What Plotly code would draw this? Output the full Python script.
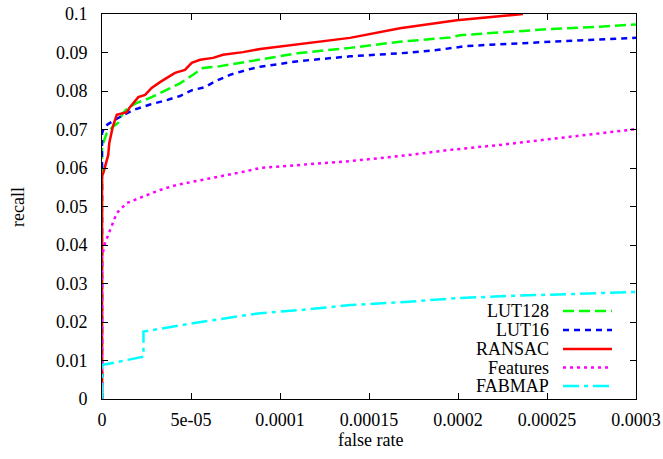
import plotly.graph_objects as go

# ---- data ----
lut128_x = [0, 0, 0, 2.6e-6, 5.6e-6, 9.0e-6, 1.18e-5, 1.46e-5, 1.95e-5, 2.70e-5, 3.63e-5, 4.38e-5,
            5.11e-5, 5.67e-5, 6.44e-5, 7.75e-5, 8.88e-5, 1.112e-4, 1.393e-4, 1.674e-4, 1.955e-4,
            2.011e-4, 2.236e-4, 2.517e-4, 2.798e-4, 3.0e-4]
lut128_y = [0, 0.060, 0.0655, 0.069, 0.0705, 0.0717, 0.0743, 0.0756, 0.0769, 0.0782, 0.0803, 0.0820,
            0.0842, 0.0860, 0.0863, 0.0873, 0.0881, 0.0899, 0.0912, 0.0928, 0.0939,
            0.0945, 0.0952, 0.0961, 0.0967, 0.0973]

lut16_x = [0, 0, 0, 1.1e-6, 3.4e-6, 7.3e-6, 1.29e-5, 1.85e-5, 2.70e-5, 3.54e-5, 4.38e-5, 5.06e-5,
           5.79e-5, 6.35e-5, 7.19e-5, 8.15e-5, 8.88e-5, 1.112e-4, 1.393e-4, 1.674e-4, 1.860e-4,
           2.051e-4, 2.421e-4, 2.702e-4, 3.0e-4]
lut16_y = [0, 0.063, 0.069, 0.0705, 0.0714, 0.0725, 0.0740, 0.0752, 0.0765, 0.0775, 0.0787, 0.0802,
           0.0810, 0.0825, 0.0842, 0.0855, 0.0863, 0.0878, 0.0890, 0.0898, 0.0905,
           0.0917, 0.0926, 0.0932, 0.0938]

ransac_x = [0, 0, 7.3e-7, 2.5e-6, 3.5e-6, 4.1e-6, 6.0e-6, 8.3e-6, 1.39e-5, 1.57e-5, 2.04e-5, 2.42e-5,
            2.79e-5, 3.26e-5, 4.10e-5, 4.66e-5, 5.04e-5, 5.51e-5, 6.24e-5, 6.80e-5, 7.92e-5,
            8.88e-5, 1.112e-4, 1.393e-4, 1.674e-4, 1.993e-4, 2.365e-4]
ransac_y = [0, 0.058, 0.0587, 0.062, 0.0634, 0.0665, 0.0706, 0.0738, 0.0745, 0.0758, 0.0784, 0.0790,
            0.0808, 0.0823, 0.0847, 0.0855, 0.0873, 0.0881, 0.0886, 0.0894, 0.0901,
            0.0909, 0.0922, 0.0938, 0.0963, 0.0984, 0.1]

features_x = [0, 0, 1.7e-6, 4.5e-6, 8.3e-6, 1.39e-5, 2.3e-5, 3.26e-5, 4.19e-5, 5.11e-5, 6.07e-5,
              7.0e-5, 7.92e-5, 8.88e-5, 1.112e-4, 1.393e-4, 1.674e-4, 1.955e-4, 2.236e-4, 2.517e-4, 3.0e-4]
features_y = [0, 0.037, 0.0405, 0.0439, 0.0483, 0.0509, 0.0525, 0.0543, 0.0556, 0.0564, 0.0574,
              0.0582, 0.0590, 0.0600, 0.0608, 0.0618, 0.0631, 0.0647, 0.0660, 0.0675, 0.0701]

fabmap_x = [0, 0, 2.33e-5, 2.33e-5, 5.11e-5, 7.0e-5, 8.88e-5, 1.112e-4, 1.393e-4, 1.674e-4,
            1.993e-4, 2.309e-4, 3.0e-4]
fabmap_y = [0, 0.0088, 0.011, 0.0175, 0.0197, 0.0210, 0.0223, 0.0231, 0.0244, 0.0251,
            0.0262, 0.0268, 0.0278]

series_names = ["LUT128", "LUT16", "RANSAC", "Features", "FABMAP"]

x_tickvals = [0, 5e-5, 1e-4, 1.5e-4, 2e-4, 2.5e-4, 3e-4]
x_ticktext = ["0", "5e-05", "0.0001", "0.00015", "0.0002", "0.00025", "0.0003"]
y_tickvals = [0, 0.01, 0.02, 0.03, 0.04, 0.05, 0.06, 0.07, 0.08, 0.09, 0.1]
y_ticktext = ["0", "0.01", "0.02", "0.03", "0.04", "0.05", "0.06", "0.07", "0.08", "0.09", "0.1"]

# ---- styles ----
FONT = "'Times New Roman', 'Liberation Serif', Times, serif"
styles = [
    dict(color="#00ff00", dash="11px,5px"),
    dict(color="#0000ff", dash="6px,5px"),
    dict(color="#ff0000", dash="solid"),
    dict(color="#ff00ff", dash="3px,4px"),
    dict(color="#00ffff", dash="16px,5px,4px,5px"),
]
LW = 2.5

data = [(lut128_x, lut128_y), (lut16_x, lut16_y), (ransac_x, ransac_y),
        (features_x, features_y), (fabmap_x, fabmap_y)]

fig = go.Figure()
for (xs, ys), name, st in zip(data, series_names, styles):
    fig.add_trace(go.Scatter(x=xs, y=ys, mode="lines", name=name, showlegend=False,
                             line=dict(color=st["color"], dash=st["dash"], width=LW)))

W, H = 663, 459
ml, mr, mt, mb = 102, 27, 14, 60
pw, ph = W - ml - mr, H - mt - mb

# manual gnuplot-style key (text right, sample to the right)
key_rows_y = [311, 330, 349, 367.5, 386]
text_right = 551
samp_x0, samp_x1 = 563, 612
for name, st, yp in zip(series_names, styles, key_rows_y):
    yy = 1 - (yp - mt) / ph
    fig.add_annotation(x=(text_right - ml) / pw, y=yy, xref="paper", yref="paper",
                       text=name, showarrow=False, xanchor="right", yanchor="middle",
                       font=dict(family=FONT, size=18, color="black"))
    fig.add_shape(type="line", xref="paper", yref="paper",
                  x0=(samp_x0 - ml) / pw, x1=(samp_x1 - ml) / pw, y0=yy, y1=yy,
                  line=dict(color=st["color"], dash=st["dash"], width=LW))

# axis titles
fig.add_annotation(x=(370 - ml) / pw, y=1 - (440 - mt) / ph, xref="paper", yref="paper",
                   text="false rate", showarrow=False, xanchor="center", yanchor="middle",
                   font=dict(family=FONT, size=18, color="black"))
fig.add_annotation(x=(18 - ml) / pw, y=1 - (207 - mt) / ph, xref="paper", yref="paper",
                   text="recall", showarrow=False, textangle=-90, xanchor="center", yanchor="middle",
                   font=dict(family=FONT, size=18, color="black"))

axis_common = dict(showgrid=False, zeroline=False, showline=True, linecolor="black", linewidth=1,
                   mirror="allticks", ticks="inside", ticklen=6, tickwidth=1, tickcolor="black",
                   automargin=False,
                   tickfont=dict(family=FONT, size=18, color="black"))
fig.update_xaxes(range=[0, 3e-4], tickvals=x_tickvals, ticktext=x_ticktext,
                 ticklabelstandoff=4, **axis_common)
fig.update_yaxes(range=[0, 0.1], tickvals=y_tickvals, ticktext=y_ticktext,
                 ticklabelstandoff=10, **axis_common)

fig.update_layout(width=W, height=H, margin=dict(l=ml, r=mr, t=mt, b=mb, autoexpand=False),
                  plot_bgcolor="white", paper_bgcolor="white",
                  font=dict(family=FONT, size=18, color="black"))

fig.write_html("out.html")
